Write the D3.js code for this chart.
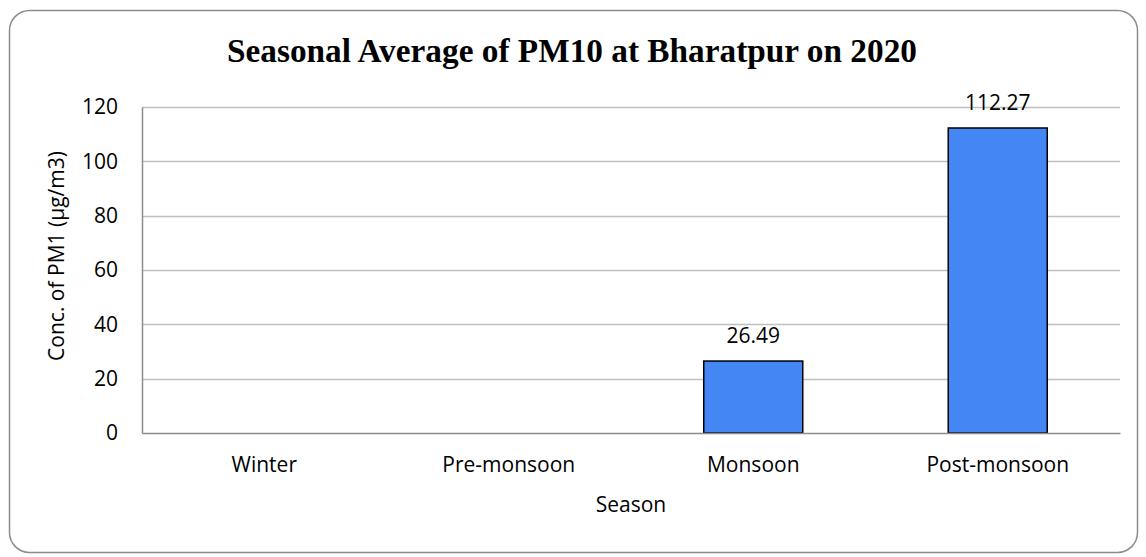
<!DOCTYPE html>
<html>
<head>
<meta charset="utf-8">
<script src="https://cdn.jsdelivr.net/npm/d3@7"></script>
<style>
  body { margin: 0; background: #ffffff; }
</style>
</head>
<body>
<div class="chart"></div>
<script>
var w = 1146;
var h = 557;

// data (no bars for winter / pre-monsoon)
var seasons = ["Winter", "Pre-monsoon", "Monsoon", "Post-monsoon"];
var pm10 = [null, null, 26.49, 112.27];
var yTicks = [0, 20, 40, 60, 80, 100, 120];

var fontSans = "'Open Sans', sans-serif";
var fontTitle = "'Liberation Serif', serif";

var plotLeft = 142, plotRight = 1120, plotTop = 107, plotBottom = 433;

var svg = d3.select(".chart")
    .append("svg")
    .attr("width", w)
    .attr("height", h);

// outer frame
svg.append("rect")
    .attr("x", 9.5)
    .attr("y", 10.5)
    .attr("width", 1128)
    .attr("height", 542)
    .attr("rx", 20)
    .attr("ry", 20)
    .attr("fill", "#ffffff")
    .attr("stroke", "#8c8c8c")
    .attr("stroke-width", 1.5);

svg.append("text")
    .attr("x", 572)
    .attr("y", 62)
    .attr("text-anchor", "middle")
    .attr("font-family", fontTitle)
    .attr("font-weight", "bold")
    .attr("font-size", 34)
    .attr("textLength", 690)
    .attr("lengthAdjust", "spacingAndGlyphs")
    .attr("fill", "#000000")
    .text("Seasonal Average of PM10 at Bharatpur on 2020");

var x = d3.scaleBand()
    .domain(seasons)
    .range([plotLeft, plotRight])
    .paddingInner(0.595)
    .paddingOuter(0.2975);

var y = d3.scaleLinear()
    .domain([0, 120])
    .range([plotBottom, plotTop]);

// gridlines
svg.append("g")
    .selectAll("line")
    .data(yTicks.filter(function(d){ return d > 0; }))
    .enter()
    .append("line")
    .attr("x1", plotLeft)
    .attr("x2", plotRight)
    .attr("y1", function(d){ return Math.round(y(d)) + 0.5; })
    .attr("y2", function(d){ return Math.round(y(d)) + 0.5; })
    .attr("stroke", "#bfbfbf")
    .attr("stroke-width", 1.5);

// y axis
var yAxis = svg.append("g")
    .attr("transform", "translate(" + plotLeft + ",0)")
    .call(d3.axisLeft(y).tickValues(yTicks).tickSize(0).tickPadding(24));
yAxis.select(".domain").attr("stroke", "#8c8c8c").attr("stroke-width", 1.5);
yAxis.selectAll("text")
    .attr("font-family", fontSans)
    .attr("font-size", 21)
    .attr("fill", "#000000");

var barData = seasons.map(function(s, i){ return {season: s, value: pm10[i]}; })
    .filter(function(d){ return d.value != null; });

// bars
svg.append("g")
    .selectAll("rect")
    .data(barData)
    .enter()
    .append("rect")
    .attr("x", function(d){ return x(d.season); })
    .attr("y", function(d){ return y(d.value); })
    .attr("width", x.bandwidth())
    .attr("height", function(d){ return y(0) - y(d.value); })
    .attr("fill", "#4486f4")
    .attr("stroke", "#000000")
    .attr("stroke-width", 1.5);

// data labels
svg.append("g")
    .selectAll("text")
    .data(barData)
    .enter()
    .append("text")
    .attr("x", function(d){ return x(d.season) + x.bandwidth() / 2; })
    .attr("y", function(d){ return y(d.value) - 18; })
    .attr("text-anchor", "middle")
    .attr("font-family", fontSans)
    .attr("font-size", 21)
    .attr("fill", "#000000")
    .text(function(d){ return d3.format(".2f")(d.value); });

// x axis
var xAxis = svg.append("g")
    .attr("transform", "translate(0," + plotBottom + ")")
    .call(d3.axisBottom(x).tickSize(0).tickPadding(24));
xAxis.select(".domain").attr("stroke", "#8c8c8c").attr("stroke-width", 1.5);
xAxis.selectAll("text")
    .attr("font-family", fontSans)
    .attr("font-size", 21)
    .attr("fill", "#000000");

// axis titles
svg.append("text")
    .attr("x", (plotLeft + plotRight) / 2)
    .attr("y", 512)
    .attr("text-anchor", "middle")
    .attr("font-family", fontSans)
    .attr("font-size", 21)
    .attr("fill", "#000000")
    .text("Season");

svg.append("text")
    .attr("transform", "translate(64,256) rotate(-90)")
    .attr("text-anchor", "middle")
    .attr("font-family", fontSans)
    .attr("font-size", 21)
    .attr("fill", "#000000")
    .text("Conc. of PM1 (µg/m3)");
</script>
</body>
</html>
